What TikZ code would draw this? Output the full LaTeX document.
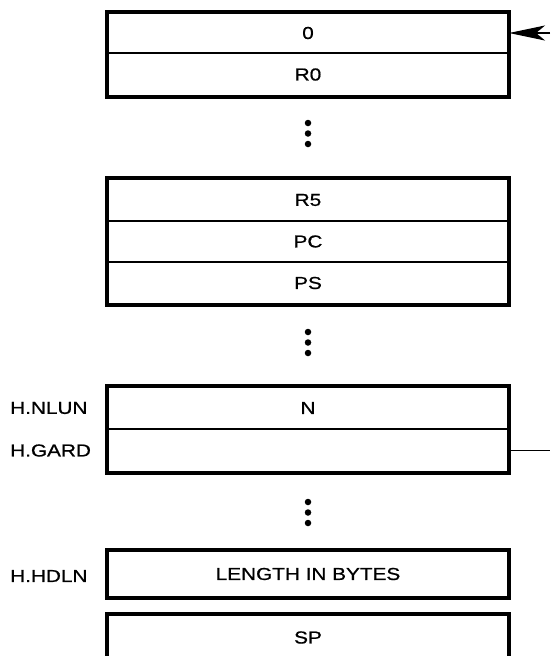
\documentclass[tikz,border=0pt]{standalone}
\usepackage{fontspec}
\setmainfont{Liberation Sans}[FakeStretch=1.2,FakeBold=0.8]
\usetikzlibrary{arrows.meta}
\newcommand{\lblfont}{\fontsize{17.3pt}{20pt}\selectfont}
\begin{document}
\begin{tikzpicture}[x=1pt,y=-1pt,
  row/.style={draw, line width=2pt, minimum width=400pt, inner sep=0pt, font=\lblfont},
  lab/.style={anchor=west, inner sep=0pt, font=\lblfont},
  grp/.style={line width=3.4pt},
  dot/.style={circle, fill, inner sep=0pt, minimum size=6.5pt},
  conn/.style={line width=2.4pt}]
\useasboundingbox (0,0) rectangle (550,656);
% group 1
\node[row, minimum height=40pt] (z)  at (308,33)   {0};
\node[row, minimum height=43pt] (r0) at (308,74.5) {R0};
\draw[grp] (z.north west) rectangle (r0.south east);
\node[dot] (d1a) at (308,123) {};
\node[dot] (d1b) at (308,133.5) {};
\node[dot] (d1c) at (308,144) {};
% group 2
\node[row, minimum height=42pt] (r5) at (308,200)   {R5};
\node[row, minimum height=41pt] (pc) at (308,241.5) {PC};
\node[row, minimum height=42pt] (ps) at (308,283)   {PS};
\draw[grp] (r5.north west) rectangle (ps.south east);
\node[dot] (d2a) at (308,332) {};
\node[dot] (d2b) at (308,342.5) {};
\node[dot] (d2c) at (308,353) {};
% group 3
\node[row, minimum height=42pt] (n) at (308,408)   {N};
\node[row, minimum height=43pt] (g) at (308,450.5) {};
\draw[grp] (n.north west) rectangle (g.south east);
\node[lab] (lnlun) at (10,408) {H.NLUN};
\node[lab] (lgard) at (10,450.5) {H.GARD};
\node[dot] (d3a) at (308,502) {};
\node[dot] (d3b) at (308,512.5) {};
\node[dot] (d3c) at (308,523) {};
% length
\node[row, minimum height=46pt] (len) at (308,574) {LENGTH IN BYTES};
\draw[grp] (len.north west) rectangle (len.south east);
\node[lab] (lhdln) at (10,576) {H.HDLN};
% SP (open at the bottom, cut by the page edge)
\node[row, draw=none, minimum height=45pt] (sp) at (308,637.5) {SP};
\draw[grp] ([yshift=-30pt]sp.south west) -- (sp.north west) -- (sp.north east) -- ([yshift=-30pt]sp.south east);
% connectors
\coordinate (ain) at (550,33);
\draw[conn, -{Stealth[length=36pt,width=15pt,inset=9pt]}] (ain) -- (z.east);
\coordinate (gout) at (550,450.5);
\draw[line width=1.6pt] (g.east) -- (gout);
\end{tikzpicture}
\end{document}
